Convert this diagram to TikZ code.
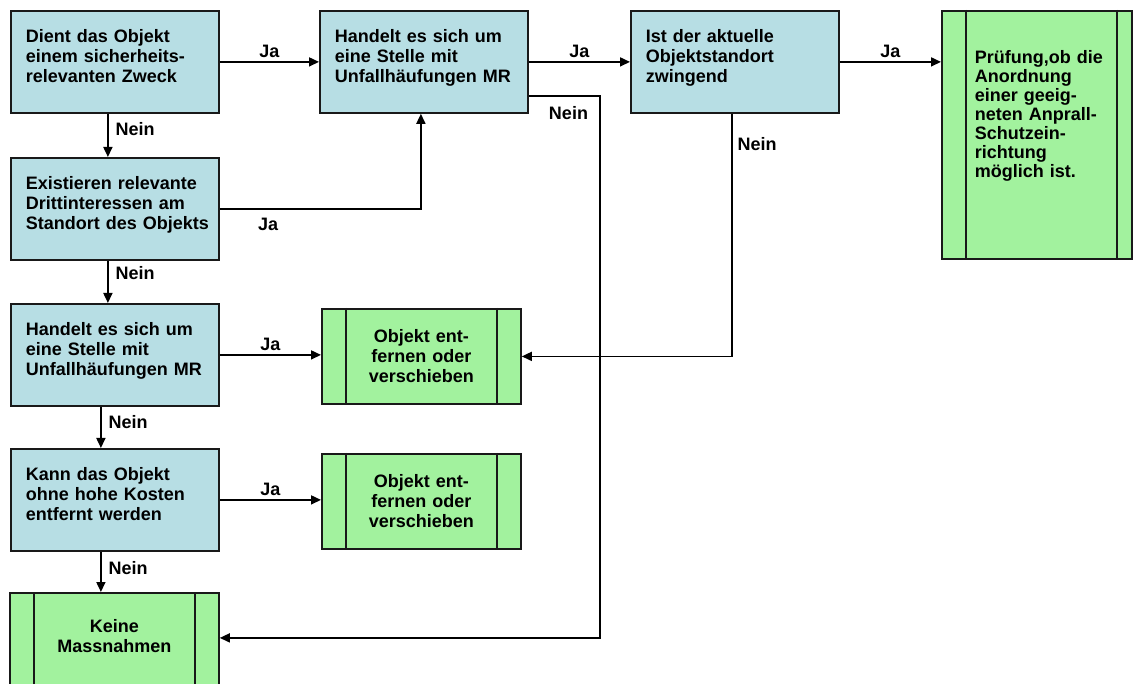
\documentclass[tikz,border=0pt]{standalone}
\usepackage{fontspec}
\setmainfont{Liberation Sans}
\usetikzlibrary{arrows.meta,positioning}
\definecolor{frageblau}{RGB}{183,222,228}
\definecolor{massgruen}{RGB}{162,242,158}

\begin{document}
\begin{tikzpicture}[x=1pt,y=-1pt,
    frage/.style={draw=black!90,line width=1.8pt,fill=frageblau,anchor=north west,font=\fontsize{18}{20}\selectfont\bfseries,text width=178pt,align=left,inner xsep=15pt,inner ysep=10pt,text height=22pt,text depth=60pt},
    massnahme/.style={draw=black!90,line width=1.8pt,fill=massgruen,anchor=north west,font=\fontsize{18}{20}\selectfont\bfseries,text width=140pt,align=center,minimum width=199pt,minimum height=95pt},
    balken/.style={draw=black!90,line width=1.8pt},
    pfeil/.style={line width=1.6pt,-{Triangle[length=10pt,width=9pt]}},
    antwort/.style={font=\fontsize{18}{20}\selectfont\bfseries,inner sep=3pt}]
  \useasboundingbox (0,0) rectangle (1133,684);
  % Fragen
  \node[frage] (dient) at (10,10) {Dient das Objekt\\einem sicherheits-\\relevanten Zweck};
  \node[frage] (drittinteressen) at (10,157) {Existieren relevante\\Drittinteressen am\\\mbox{Standort des Objekts}};
  \node[frage] (stelle2) at (10,303) {Handelt es sich um\\eine Stelle mit\\Unfallhäufungen MR};
  \node[frage] (kosten) at (10,448) {Kann das Objekt\\ohne hohe Kosten\\entfernt werden};
  \node[frage] (stelle1) at (319,10) {Handelt es sich um\\eine Stelle mit\\Unfallhäufungen MR};
  \node[frage] (zwingend) at (630,10) {Ist der aktuelle\\Objektstandort\\zwingend};
  % Massnahmen
  \node[massnahme] (entfernen1) at (321,308) {Objekt ent-\\fernen oder\\verschieben};
  \node[massnahme] (entfernen2) at (321,453) {Objekt ent-\\fernen oder\\verschieben};
  \node[massnahme,minimum width=209pt,minimum height=100pt,text height=13pt,text depth=33pt] (keine) at (9,592) {Keine\\Massnahmen};
  \node[massnahme,text width=124pt,align=left,inner xsep=33pt,inner ysep=10pt,minimum width=190pt,minimum height=248pt,
    font=\fontsize{18}{19}\selectfont\bfseries,text height=43pt,text depth=185pt] (pruef) at (941,10)
    {\mbox{Prüfung,ob die}\\Anordnung\\einer geeig-\\\mbox{neten Anprall-}\\Schutzein-\\richtung\\möglich ist.};
  \foreach \n in {entfernen1,entfernen2,keine}
    \draw[balken] ([xshift=25pt]\n.north west) -- ([xshift=25pt]\n.south west)
      ([xshift=-25pt]\n.north east) -- ([xshift=-25pt]\n.south east);
  \draw[balken] ([xshift=25pt]pruef.north west) -- ([xshift=25pt]pruef.south west)
    ([xshift=-16pt]pruef.north east) -- ([xshift=-16pt]pruef.south east);
  % Verbindungen
  \draw[pfeil] (dient.east) -- node[antwort,above] (ja1) {Ja} (stelle1.west);
  \draw[pfeil] (stelle1.east) -- node[antwort,above] (ja5) {Ja} (zwingend.west);
  \draw[pfeil] (zwingend.east) -- node[antwort,above] (ja6) {Ja} (zwingend.east -| pruef.west);
  \draw[pfeil] ([xshift=-7pt]dient.south) -- node[antwort,pos=0.35,right=4pt] (nein1) {Nein} ([xshift=-7pt]dient.south |- drittinteressen.north);
  \draw[pfeil] (drittinteressen.east) -| node[antwort,pos=0.12,below=5pt] (ja2) {Ja} ([xshift=-3pt]stelle1.south);
  \draw[pfeil] ([xshift=-7pt]drittinteressen.south) -- node[antwort,pos=0.29,right=4pt] (nein2) {Nein} ([xshift=-7pt]drittinteressen.south |- stelle2.north);
  \draw[pfeil] (stelle2.east) -- node[antwort,above] (ja3) {Ja} (stelle2.east -| entfernen1.west);
  \draw[pfeil] ([xshift=-14pt]stelle2.south) -- node[antwort,pos=0.38,right=4pt] (nein3) {Nein} ([xshift=-14pt]stelle2.south |- kosten.north);
  \draw[pfeil] (kosten.east) -- node[antwort,above] (ja4) {Ja} (kosten.east -| entfernen2.west);
  \draw[pfeil] ([xshift=-14pt]kosten.south) -- node[antwort,pos=0.41,right=4pt] (nein4) {Nein} ([xshift=-14pt]kosten.south |- keine.north);
  \draw[pfeil] ([yshift=18pt]stelle1.south east) -- ++(71,0) node[antwort,below left=7pt and 8pt] (nein5) {Nein} |- ([yshift=5pt]keine.east);
  \draw[pfeil] ([xshift=-3pt]zwingend.south) |- node[antwort,pos=0.062,right=2pt] (nein6) {Nein} (entfernen1.east);
\end{tikzpicture}
\end{document}
